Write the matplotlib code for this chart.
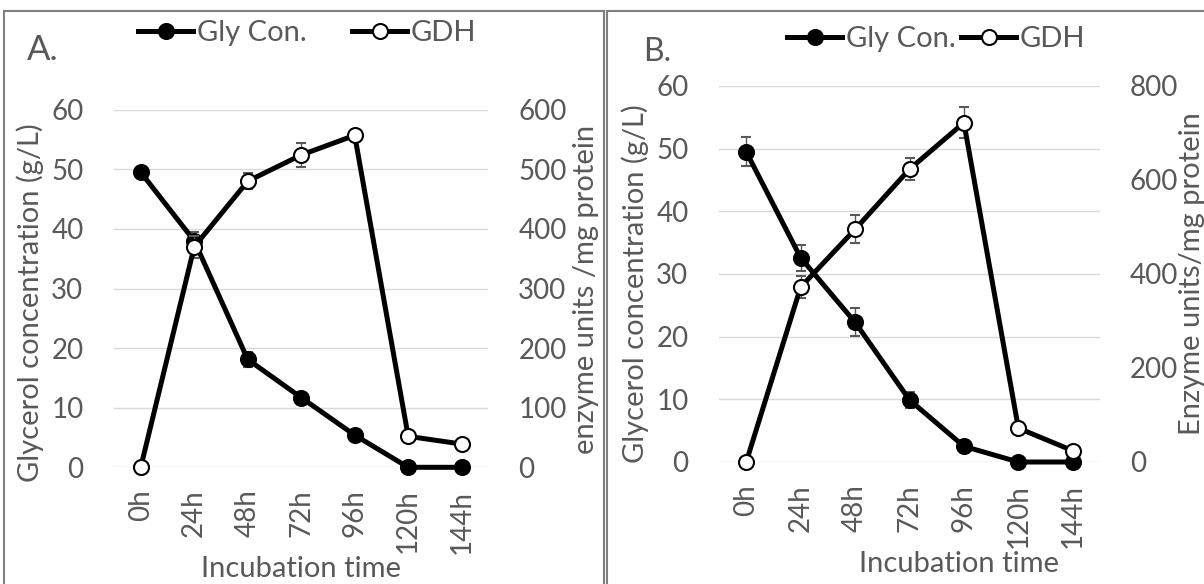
import matplotlib
matplotlib.use('Agg')
import matplotlib.pyplot as plt
from matplotlib.lines import Line2D

# ---- data ----
times = ['0h', '24h', '48h', '72h', '96h', '120h', '144h']
gly_a = [49.5, 38.0, 18.1, 11.7, 5.4, 0, 0]
gly_a_err = [0.8, 1.5, 1.2, 0.6, 0.5, 0, 0]
gdh_a = [0, 370, 480, 524, 557, 52, 39]
gdh_a_err = [0, 18, 13, 20, 5, 3, 2]
gly_b = [49.5, 32.6, 22.3, 9.9, 2.5, 0, 0]
gly_b_err = [2.3, 2.1, 2.2, 1.3, 0.3, 0, 0]
gdh_b = [0, 372, 495, 623, 722, 72, 24]
gdh_b_err = [0, 24, 30, 23, 33, 3, 2]
left_ticks = [0, 10, 20, 30, 40, 50, 60]
right_ticks_a = [0, 100, 200, 300, 400, 500, 600]
right_ticks_b = [0, 200, 400, 600, 800]

plt.rcParams['font.family'] = ['Lato', 'DejaVu Sans']
TXT = '#595959'
GRID = '#D9D9D9'
FS = 21
TFS = 20

W, H = 1204, 584
fig = plt.figure(figsize=(W / 100, H / 100), dpi=100)
fig.patch.set_facecolor('white')


def add_ax(l, r, t, b):
    return fig.add_axes([l / W, 1 - b / H, (r - l) / W, (b - t) / H])


def style(ax):
    for s in ax.spines.values():
        s.set_visible(False)
    ax.set_facecolor('none')


def panel(ax, gly, gly_err, gdh, gdh_err, rmax, rticks):
    x = list(range(len(times)))
    style(ax)
    ax.set_xlim(-0.5, len(times) - 0.5)
    ax.set_ylim(0, 60)
    ax.set_yticks(left_ticks)
    ax.set_xticks(x)
    ax.set_xticklabels(times, rotation=90, va='top', ha='center')
    ax.grid(axis='y', color=GRID, lw=1.0)
    ax.set_axisbelow(True)
    ax.tick_params(axis='y', length=0, pad=22, labelsize=TFS, labelcolor=TXT)
    ax.tick_params(axis='x', length=0, pad=16, labelsize=TFS, labelcolor=TXT)
    ax.errorbar(x, gly, yerr=gly_err, fmt='-o', color='black', lw=3.6,
                ms=10.8, mfc='black', mec='black', mew=1.5,
                ecolor='#595959', elinewidth=1.0, capsize=3.5, capthick=1.0,
                clip_on=False)
    ax2 = ax.twinx()
    style(ax2)
    ax2.set_ylim(0, rmax)
    ax2.set_yticks(rticks)
    ax2.tick_params(axis='y', length=0, pad=21.5, labelsize=TFS, labelcolor=TXT)
    ax2.errorbar(x, gdh, yerr=gdh_err, fmt='-o', color='black', lw=3.6,
                 ms=10.8, mfc='white', mec='black', mew=1.5,
                 ecolor='#595959', elinewidth=1.0, capsize=3.5, capthick=1.0,
                 clip_on=False)
    return ax2


axA = add_ax(114, 488.4, 109.7, 467.3)
panel(axA, gly_a, gly_a_err, gdh_a, gdh_a_err, 600, right_ticks_a)
axB = add_ax(719, 1100, 86, 462)
panel(axB, gly_b, gly_b_err, gdh_b, gdh_b_err, 800, right_ticks_b)


def ftext(x, y, s, **kw):
    kw.setdefault('color', TXT)
    kw.setdefault('fontsize', FS)
    fig.text(x / W, 1 - y / H, s, **kw)


ftext(27, 60, 'A.', fontsize=25, ha='left', va='baseline')
ftext(643, 61, 'B.', fontsize=23, ha='left', va='baseline')
ftext(30, 303, 'Glycerol concentration (g/L)', rotation=90, ha='center', va='center')
ftext(586, 289, 'enzyme units /mg protein', rotation=90, ha='center', va='center')
ftext(635, 284, 'Glycerol concentration (g/L)', rotation=90, ha='center', va='center')
ftext(1192, 274, 'Enzyme units/mg protein', rotation=90, ha='center', va='center')
ftext(301, 577, 'Incubation time', ha='center', va='baseline')
ftext(959, 572, 'Incubation time', ha='center', va='baseline')

# legends
h_gly = Line2D([], [], color='black', lw=3.6, marker='o', ms=10.8, mfc='black', mec='black', mew=1.5)
h_gdh = Line2D([], [], color='black', lw=3.6, marker='o', ms=10.8, mfc='white', mec='black', mew=1.5)
px_fs = FS * 100 / 72


def leg(h, label, x, y):
    lg = fig.legend([h], [label], loc='center left', bbox_to_anchor=(x / W, 1 - y / H),
                    frameon=False, borderpad=0, borderaxespad=0, fontsize=FS,
                    handlelength=55 / px_fs, handletextpad=4 / px_fs, numpoints=1,
                    labelcolor=TXT)
    return lg


leg(h_gly, 'Gly Con.', 138, 33)
leg(h_gdh, 'GDH', 352, 33)
leg(h_gly, 'Gly Con.', 787, 39)
leg(h_gdh, 'GDH', 961, 39)

# panel borders
BC = '#7F7F7F'


def fline(x0, y0, x1, y1, lw=1.5):
    fig.add_artist(Line2D([x0 / W, x1 / W], [1 - y0 / H, 1 - y1 / H],
                          transform=fig.transFigure, color=BC, lw=lw))


fline(4, 11, 604, 11)
fline(4, 11, 4, 590)
fline(604, 11, 604, 590)
fline(607, 11, 1210, 11)
fline(607, 11, 607, 590)

fig.savefig('out.png', dpi=100)
